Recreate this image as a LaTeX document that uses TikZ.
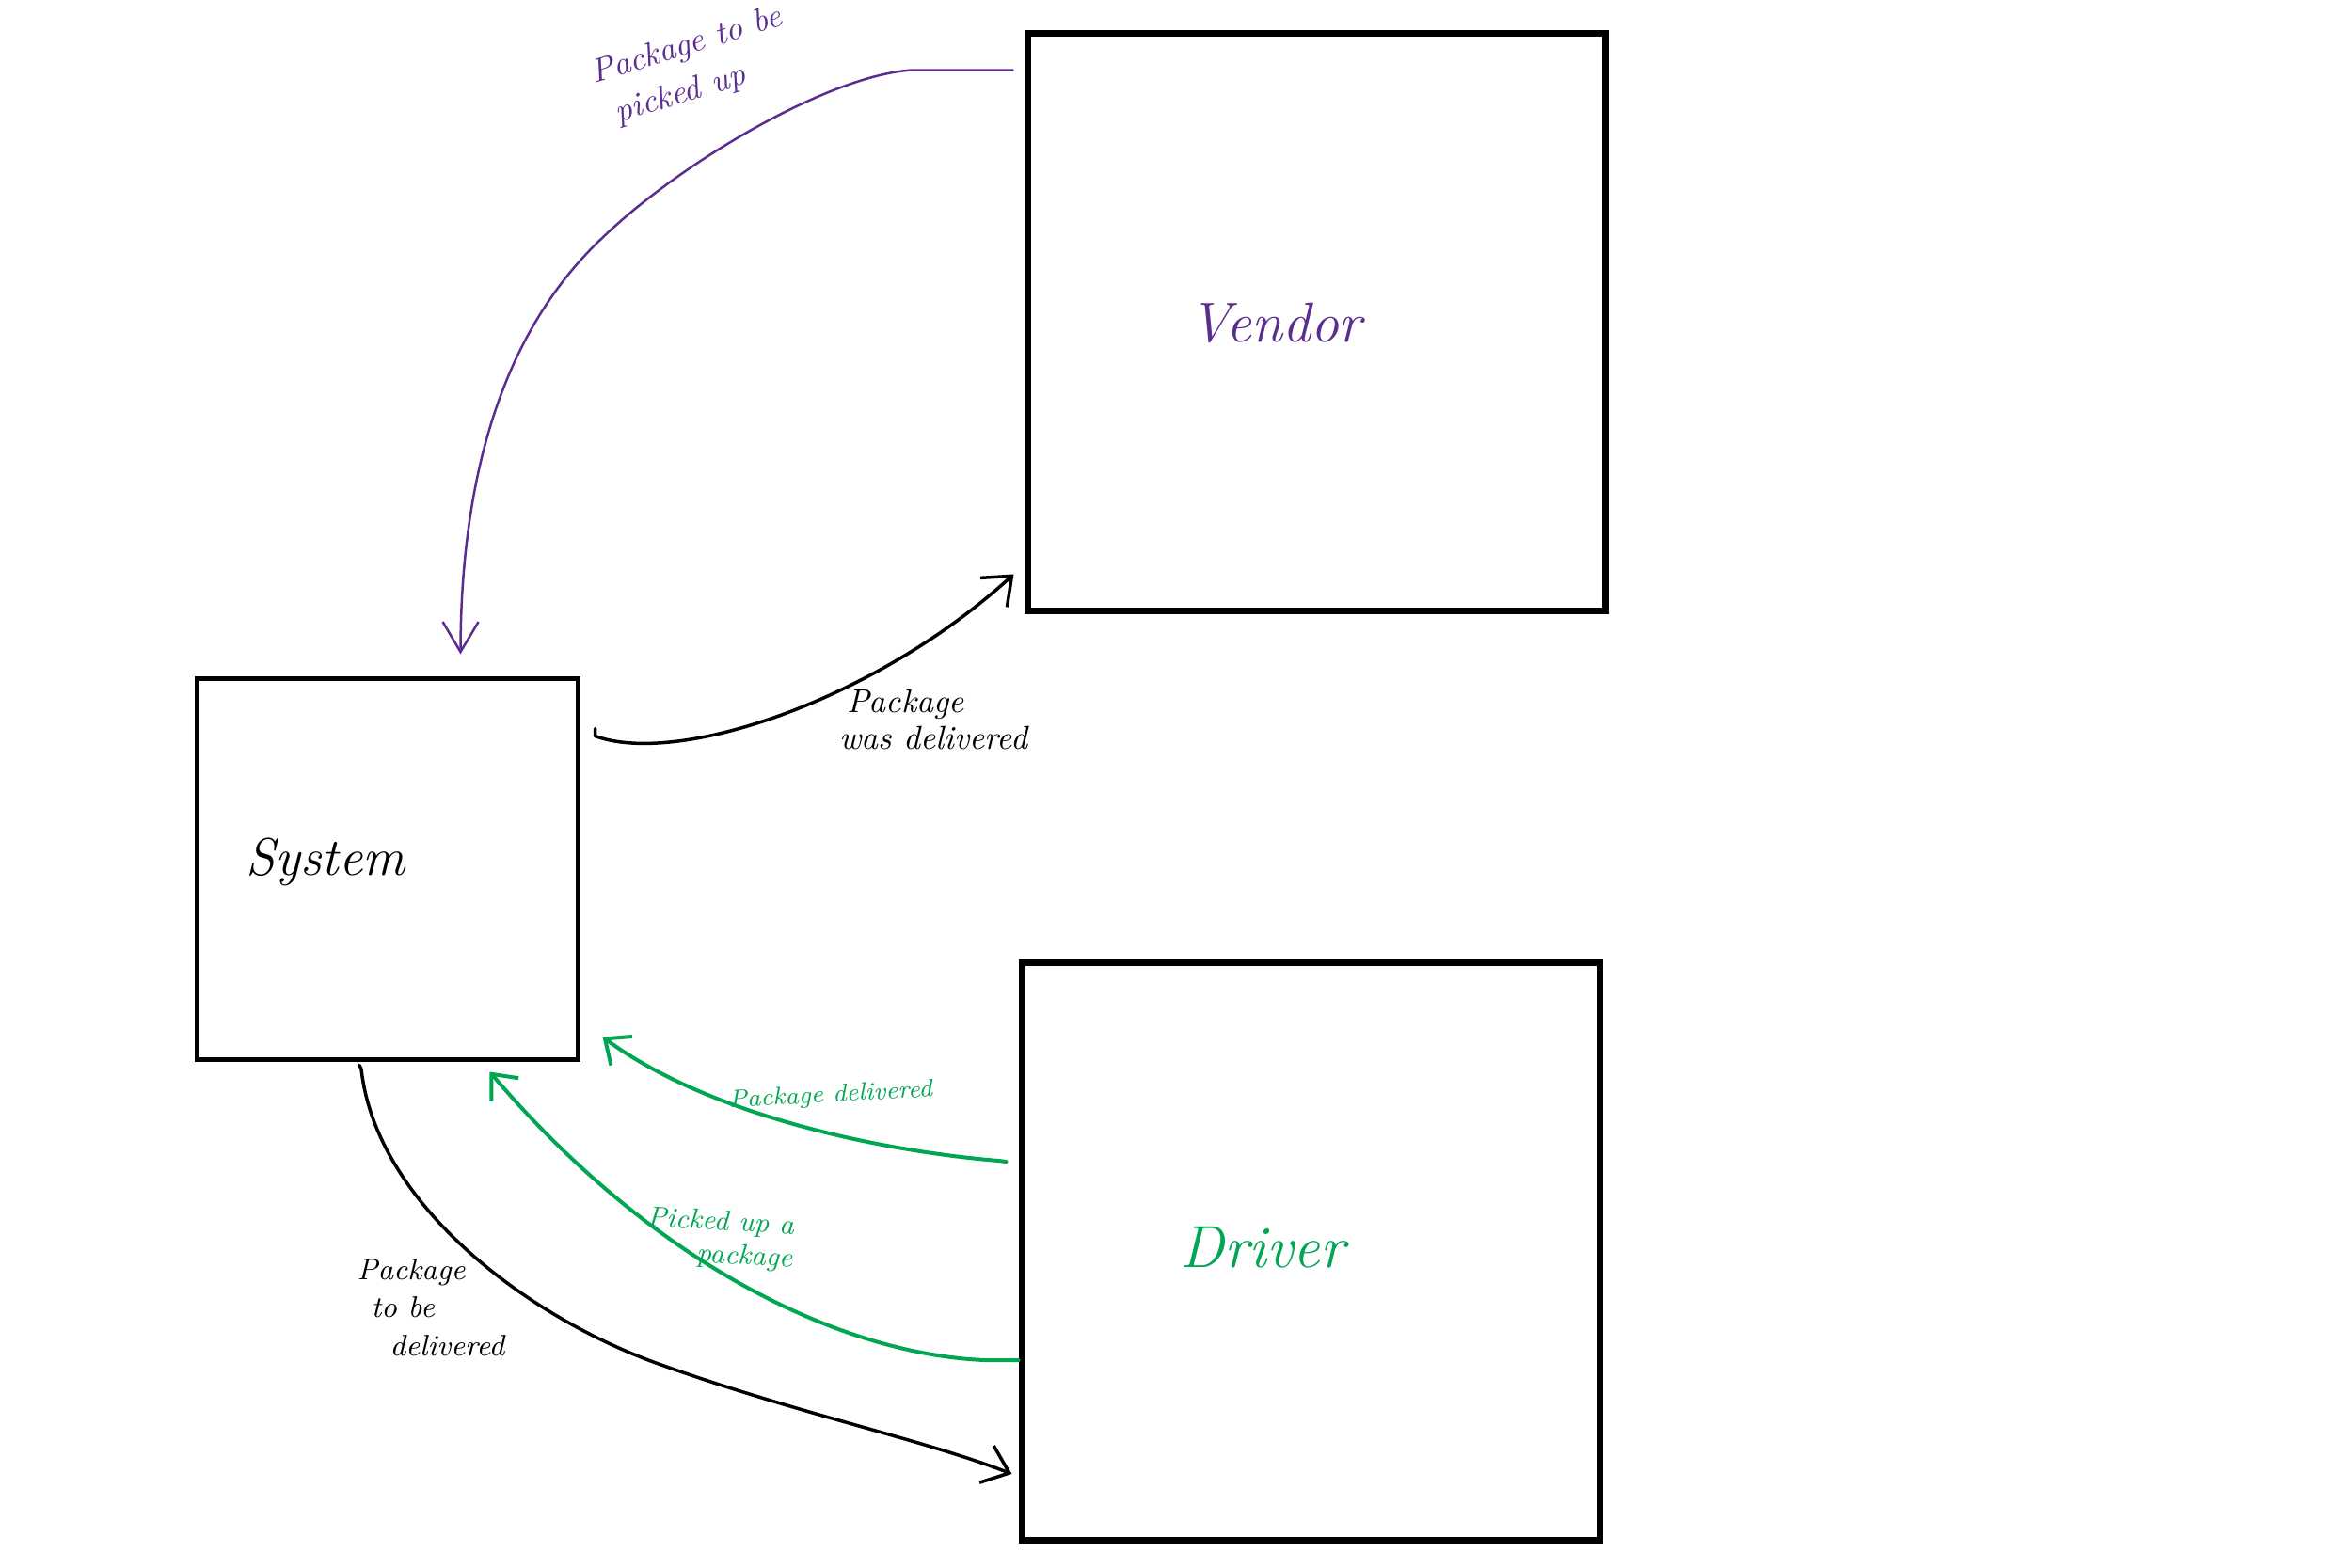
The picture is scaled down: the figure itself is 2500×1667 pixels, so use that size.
\documentclass[tikz,border=0pt]{standalone}
\usetikzlibrary{arrows.meta,calc}
\definecolor{vpurple}{RGB}{92,45,145}
\definecolor{dgreen}{RGB}{0,166,81}
\begin{document}
\begin{tikzpicture}[x=0.1mm,y=-0.1mm,
  box/.style={draw=black,line width=0.7mm,minimum width=61.4mm,minimum height=61.4mm,inner sep=0pt},
  bigtext/.style={font=\fontsize{17}{20}\selectfont\itshape,inner sep=0pt},
  smalltext/.style={font=\fontsize{10}{11}\selectfont\itshape,inner sep=0pt,align=left},
  blackline/.style={draw=black,line width=0.35mm,line cap=round,line join=round},
  purpleline/.style={draw=vpurple,line width=0.25mm,line cap=round,line join=round},
  greenline/.style={draw=dgreen,line width=0.4mm,line cap=round,line join=round},
  blacktip/.style={-{Straight Barb[length=2.6mm,width=4.2mm,line width=0.35mm]}},
  greentip/.style={-{Straight Barb[length=2.2mm,width=3.8mm,line width=0.4mm]}},
  purpletip/.style={-{Straight Barb[length=3.2mm,width=3.8mm,line width=0.25mm]}}]
\fill[white] (0,0) rectangle (2500,1667);
\useasboundingbox (0,0) rectangle (2500,1667);

% boxes
\node[box,line width=0.5mm,minimum width=40.5mm,minimum height=40.5mm] (system) at (411.5,923.5) {};
\node[box] (vendor) at (1399,342) {};
\node[box] (driver) at (1393,1330.5) {};

% box labels
\node[bigtext,text=vpurple] (vendorlabel) at (1356,343) {Vendor};
\node[bigtext,font=\fontsize{16}{18}\selectfont\itshape] (systemlabel) at (346,916) {System};
\node[bigtext,text=dgreen,font=\fontsize{18}{20}\selectfont\itshape] (driverlabel) at (1342,1326) {Driver};

% connector ends
\coordinate (p0) at ($(vendor.north west)+(-12,43)$);
\coordinate (p1) at ($(system.north)+(78,-23)$);
\coordinate (b0) at ($(system.north east)+(16,64)$);
\coordinate (b1) at ($(vendor.south west)+(-11,-42)$);
\coordinate (g0) at ($(driver.north west)+(-13,215)$);
\coordinate (g1) at ($(system.south east)+(24,-26)$);
\coordinate (h0) at ($(driver.north west)+(0,426)$);
\coordinate (h1) at ($(system.south east)+(-96,11)$);
\coordinate (k0) at ($(system.south)+(-27.5,8)$);
\coordinate (k1) at ($(driver.south west)+(-7,-74)$);

% purple: vendor -> system
\draw[purpleline,purpletip] (p0) -- ++(-107,0)
  .. controls (880,80) and (720,175) .. (638,255)
  .. controls (565,325) and (490,450) .. (p1);

% black: system -> vendor
\draw[blackline,blacktip] ($(b0)+(0,-8)$) -- (b0)
  .. controls (720,815) and (930,745) .. (b1);

% green: driver -> system (package delivered)
\draw[greenline,greentip] (g0) -- ++(-8,-1)
  .. controls (950,1225) and (760,1190) .. (g1);

% green: driver -> system (picked up)
\draw[greenline,greentip] (h0) -- ++(-36,0)
  .. controls (900,1440) and (700,1350) .. (h1);

% black: system -> driver
\draw[blackline,blacktip] ($(k0)+(-2,-4)$) -- (k0)
  .. controls (400,1280) and (560,1400) .. (700,1450)
  .. controls (850,1503.6) and (980,1530) .. (k1);

% connector labels
\node[smalltext,text=vpurple,rotate=17,font=\fontsize{10}{13.5}\selectfont\itshape] (lpick) at (737,72) {Package to be\\\hspace{1.2mm}picked up};
\node[smalltext] (lwas) at (992,765) {\hspace{0.8mm}Package\\was delivered};
\node[smalltext,text=dgreen,font=\fontsize{7.5}{9}\selectfont\itshape,rotate=3] (ldel) at (883,1165) {Package delivered};
\node[smalltext,text=dgreen,align=right,font=\fontsize{8.5}{10}\selectfont\itshape,rotate=-3] (lup) at (765,1318) {Picked up a\\package};
\node[smalltext,font=\fontsize{9}{11.5}\selectfont\itshape] (ltobe) at (458,1390) {Package\\\hspace{1.5mm}to be\\\hspace{3.5mm}delivered};
\end{tikzpicture}
\end{document}
